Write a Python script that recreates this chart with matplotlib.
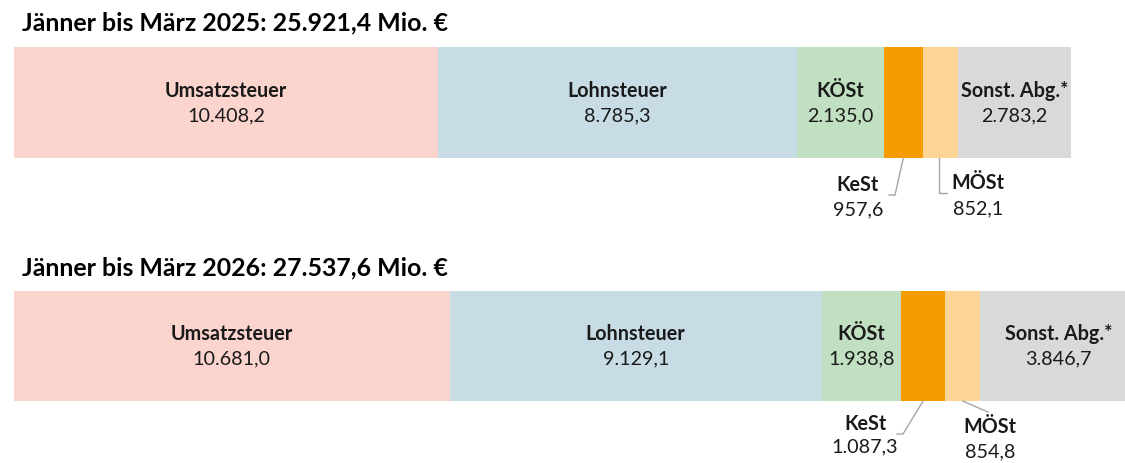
import matplotlib.pyplot as plt

# Daten (Mio. €)
kategorien = ["Umsatzsteuer", "Lohnsteuer", "KÖSt", "KeSt", "MÖSt", "Sonst. Abg.*"]
werte_2025 = [10408.2, 8785.3, 2135.0, 957.6, 852.1, 2783.2]
werte_2026 = [10681.0, 9129.1, 1938.8, 1087.3, 854.8, 3846.7]
labels_2025 = ["10.408,2", "8.785,3", "2.135,0", "957,6", "852,1", "2.783,2"]
labels_2026 = ["10.681,0", "9.129,1", "1.938,8", "1.087,3", "854,8", "3.846,7"]
titel = ["Jänner bis März 2025: 25.921,4 Mio. €", "Jänner bis März 2026: 27.537,6 Mio. €"]

farben = ["#FAD4CD", "#C7DCE5", "#C1E0C1", "#F49C00", "#FDD596", "#D9D9D9"]

plt.rcParams['font.family'] = ['Lato', 'DejaVu Sans']

W, H = 1125, 463
fig = plt.figure(figsize=(W / 100, H / 100), dpi=100)
# Achse: x in Mio. €, y in Pixeln
links = 14
skala = 0.04078  # px pro Mio. €
ax = fig.add_axes([links / W, 0, 1 - links / W, 1])
ax.set_xlim(0, (W - links) / skala)
ax.set_ylim(H, 0)
ax.axis("off")

def px(x_pixel):
    return (x_pixel - links) / skala

fs = 14.2
tc = "#1a1a1a"

balken = [
    # werte, labels, oben, unten, titel_y, name_y, wert_y
    (werte_2025, labels_2025, 47, 158, 23, 91, 116),
    (werte_2026, labels_2026, 291, 401, 268, 334, 359),
]

for i, (werte, labels, oben, unten, ty, ny, wy) in enumerate(balken):
    ax.text(px(22), ty, titel[i], fontsize=17.9, fontweight="bold",
            ha="left", va="center", color="#000000")
    start = 0
    mitten = []
    for k, v in enumerate(werte):
        ax.barh((oben + unten) / 2, v, height=unten - oben, left=start,
                color=farben[k], edgecolor="none")
        mitten.append(start + v / 2)
        if kategorien[k] not in ("KeSt", "MÖSt"):
            ax.text(start + v / 2, ny, kategorien[k], fontsize=fs,
                    fontweight="bold", ha="center", va="center", color=tc)
            ax.text(start + v / 2, wy, labels[k], fontsize=fs,
                    ha="center", va="center", color=tc)
        start += v

    # Beschriftungen KeSt / MÖSt unterhalb
    lc = "#A6A6A6"
    if i == 0:
        ax.plot([mitten[3], px(895), px(889)], [unten, 195, 195], color=lc, lw=1)
        ax.text(px(858), 185, "KeSt", fontsize=fs, fontweight="bold", ha="center", va="center", color=tc)
        ax.text(px(858), 210, labels[3], fontsize=fs, ha="center", va="center", color=tc)
        ax.plot([px(939), px(939), px(947)], [unten, 193, 193], color=lc, lw=1)
        ax.text(px(978), 183, "MÖSt", fontsize=fs, fontweight="bold", ha="center", va="center", color=tc)
        ax.text(px(978), 209, labels[4], fontsize=fs, ha="center", va="center", color=tc)
    else:
        ax.plot([mitten[3], px(903), px(897)], [unten, 434, 434], color=lc, lw=1)
        ax.text(px(865), 424, "KeSt", fontsize=fs, fontweight="bold", ha="center", va="center", color=tc)
        ax.text(px(865), 447, labels[3], fontsize=fs, ha="center", va="center", color=tc)
        ax.plot([mitten[4], px(988)], [unten, 412], color=lc, lw=1)
        ax.text(px(990), 427, "MÖSt", fontsize=fs, fontweight="bold", ha="center", va="center", color=tc)
        ax.text(px(990), 452, labels[4], fontsize=fs, ha="center", va="center", color=tc)

fig.savefig("out.png", dpi=100)
